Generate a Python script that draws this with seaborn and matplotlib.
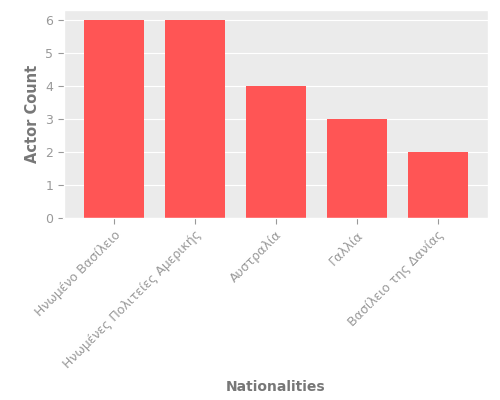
import matplotlib
matplotlib.use("Agg")
import matplotlib.pyplot as plt
import seaborn as sns
import pandas as pd

# data
countries = ["Ηνωμένο Βασίλειο", "Ηνωμένες Πολιτείες Αμερικής", "Αυστραλία",
             "Γαλλία", "Βασίλειο της Δανίας"]
actor_counts = [6, 6, 4, 3, 2]

plt.style.use("ggplot")
plt.rcParams["font.family"] = ["DejaVu Sans"]

df = pd.DataFrame({"Nationalities": countries, "Actor Count": actor_counts})

fig, ax = plt.subplots(figsize=(5, 4), dpi=100)
sns.barplot(data=df, x="Nationalities", y="Actor Count", color="#FF5555",
            saturation=1, width=0.74, ax=ax)

ax.set_facecolor("#EBEBEB")
ax.set_xlabel("Nationalities", fontsize=10, fontweight="bold", color="#777777",
              labelpad=6)
ax.set_ylabel("Actor Count", fontsize=10.5, fontweight="bold", color="#777777")
ax.tick_params(axis="both", labelsize=9, colors="#999999", length=4)
plt.setp(ax.get_xticklabels(), rotation=45, ha="right", rotation_mode="anchor")
ax.grid(axis="x", visible=False)
ax.set_xlim(-0.62, 4.62)
ax.set_ylim(0, 6.3)

fig.subplots_adjust(left=0.127, right=0.976, top=0.975, bottom=0.455)
fig.savefig("out.png")
